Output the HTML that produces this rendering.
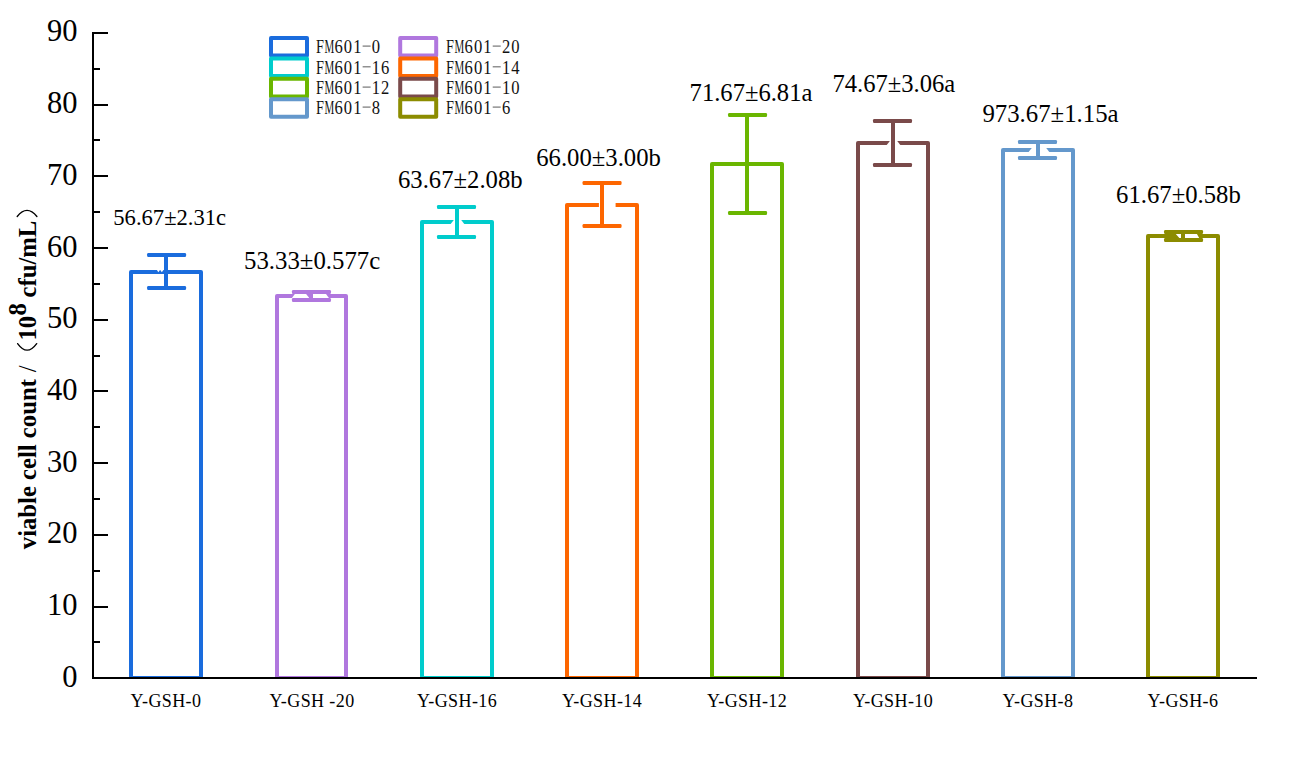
<!DOCTYPE html>
<html><head><meta charset="utf-8"><title>Viable cell count</title>
<style>html,body{margin:0;padding:0;background:#fff;}body{width:1314px;height:760px;overflow:hidden;font-family:"Liberation Serif",serif;}svg{display:block;}</style>
</head><body>
<svg width="1314" height="760" viewBox="0 0 1314 760">
<rect width="1314" height="760" fill="#fff"/>
<clipPath id="cp"><rect x="0" y="0" width="1314" height="677"/></clipPath>
<g fill="none" stroke-width="4" stroke-linejoin="round" clip-path="url(#cp)">
<rect x="131" y="272.00" width="70" height="406.00" stroke="#1A6CDD"/>
<rect x="277" y="296.00" width="69" height="382.00" stroke="#B077DE"/>
<rect x="422" y="222.00" width="70" height="456.00" stroke="#00CCCC"/>
<rect x="567" y="205.00" width="70" height="473.00" stroke="#FD6600"/>
<rect x="712" y="164.00" width="70" height="514.00" stroke="#6AB600"/>
<rect x="858" y="143.00" width="70" height="535.00" stroke="#7A4A4A"/>
<rect x="1003" y="150.00" width="70" height="528.00" stroke="#6498CC"/>
<rect x="1148" y="236.00" width="70" height="442.00" stroke="#8C8C00"/>
</g>
<g fill="#fff">
<polygon points="156.8,269.8 160.1,269.8 158.4,272.3"/>
<polygon points="160.1,269.8 163.6,269.8 161.8,272.3"/>
<polygon points="295.05,293.8 305.9,293.8 309.3,298 291.9,298"/>
<polygon points="312.8,293.8 325.8,293.8 328.95,298 312.8,298"/>
<polygon points="454,219.7 455.2,219.7 455.2,224.1 450.7,224.1"/>
<polygon points="458.9,219.7 461,219.7 464.3,224.1 458.9,224.1"/>
<polygon points="598.9,203 600.3,203 600.3,207.2 598.9,207.2"/>
<polygon points="603.8,203 615.6,203 615.6,207.2 603.8,207.2"/>
<polygon points="890.1,140.8 891.2,140.8 891.2,145.1 886.7,145.1"/>
<polygon points="894.9,140.8 897,140.8 900.3,145.1 894.9,145.1"/>
<polygon points="1032,147.8 1036.2,147.8 1036.2,152.1 1028.6,152.1"/>
<polygon points="1039.8,147.8 1046,147.8 1049.3,152.1 1039.8,152.1"/>
<polygon points="1175.8,234 1181.1,234 1181.1,238 1179.3,238"/>
<polygon points="1184.8,234 1196.9,234 1199.2,238 1184.8,238"/>
</g>
<g>
<rect x="147.10" y="253" width="39" height="4" rx="1.3" fill="#1A6CDD"/>
<rect x="147.10" y="286" width="39" height="4" rx="1.3" fill="#1A6CDD"/>
<rect x="164" y="255" width="4" height="33" fill="#1A6CDD"/>
<rect x="291.95" y="290" width="39" height="4" rx="1.3" fill="#B077DE"/>
<rect x="291.95" y="298" width="39" height="4" rx="1.3" fill="#B077DE"/>
<rect x="309" y="292" width="4" height="8" fill="#B077DE"/>
<rect x="437.00" y="205" width="39" height="4" rx="1.3" fill="#00CCCC"/>
<rect x="437.00" y="235" width="39" height="4" rx="1.3" fill="#00CCCC"/>
<rect x="455" y="207" width="4" height="30" fill="#00CCCC"/>
<rect x="582.55" y="181" width="39" height="4" rx="1.3" fill="#FD6600"/>
<rect x="582.55" y="224" width="39" height="4" rx="1.3" fill="#FD6600"/>
<rect x="600" y="183" width="4" height="43" fill="#FD6600"/>
<rect x="728.05" y="113" width="39" height="4" rx="1.3" fill="#6AB600"/>
<rect x="728.05" y="211" width="39" height="4" rx="1.3" fill="#6AB600"/>
<rect x="745" y="115" width="4" height="98" fill="#6AB600"/>
<rect x="873.00" y="119" width="39" height="4" rx="1.3" fill="#7A4A4A"/>
<rect x="873.00" y="163" width="39" height="4" rx="1.3" fill="#7A4A4A"/>
<rect x="891" y="121" width="4" height="44" fill="#7A4A4A"/>
<rect x="1018.00" y="140" width="39" height="4" rx="1.3" fill="#6498CC"/>
<rect x="1018.00" y="156" width="39" height="4" rx="1.3" fill="#6498CC"/>
<rect x="1036" y="142" width="4" height="16" fill="#6498CC"/>
<rect x="1164.05" y="230" width="39" height="4" rx="1.3" fill="#8C8C00"/>
<rect x="1164.05" y="238" width="39" height="4" rx="1.3" fill="#8C8C00"/>
<rect x="1181" y="232" width="4" height="8" fill="#8C8C00"/>
</g>
<g fill="#000">
<rect x="92" y="32" width="2" height="647"/>
<rect x="92" y="677" width="1165" height="2"/>
<rect x="94" y="32" width="14" height="2"/>
<rect x="94" y="68" width="6" height="2"/>
<rect x="94" y="104" width="14" height="2"/>
<rect x="94" y="139" width="6" height="2"/>
<rect x="94" y="175" width="14" height="2"/>
<rect x="94" y="211" width="6" height="2"/>
<rect x="94" y="247" width="14" height="2"/>
<rect x="94" y="283" width="6" height="2"/>
<rect x="94" y="319" width="14" height="2"/>
<rect x="94" y="355" width="6" height="2"/>
<rect x="94" y="390" width="14" height="2"/>
<rect x="94" y="426" width="6" height="2"/>
<rect x="94" y="462" width="14" height="2"/>
<rect x="94" y="498" width="6" height="2"/>
<rect x="94" y="534" width="14" height="2"/>
<rect x="94" y="570" width="6" height="2"/>
<rect x="94" y="606" width="14" height="2"/>
<rect x="94" y="641" width="6" height="2"/>
</g>
<g font-family="Liberation Serif, serif" font-size="30.5" text-anchor="end" fill="#000">
<text x="77.6" y="40.65">90</text>
<text x="77.6" y="112.65">80</text>
<text x="77.6" y="184.85">70</text>
<text x="77.6" y="256.7">60</text>
<text x="77.6" y="327.9">50</text>
<text x="77.6" y="399.7">40</text>
<text x="77.6" y="471.7">30</text>
<text x="77.6" y="543.3">20</text>
<text x="77.6" y="614.8">10</text>
<text x="77.6" y="686.65">0</text>
</g>
<g font-family="Liberation Serif, serif" font-size="18" text-anchor="middle" fill="#000" letter-spacing="0.4">
<text x="166" y="707" xml:space="preserve">Y-GSH-0</text>
<text x="312" y="707" xml:space="preserve">Y-GSH -20</text>
<text x="457" y="707" xml:space="preserve">Y-GSH-16</text>
<text x="602" y="707" xml:space="preserve">Y-GSH-14</text>
<text x="747" y="707" xml:space="preserve">Y-GSH-12</text>
<text x="893" y="707" xml:space="preserve">Y-GSH-10</text>
<text x="1038" y="707" xml:space="preserve">Y-GSH-8</text>
<text x="1183" y="707" xml:space="preserve">Y-GSH-6</text>
</g>
<g font-family="Liberation Serif, serif" fill="#000">
<text x="113.3" y="225.0" font-size="22.6">56.67±2.31c</text>
<text x="244.0" y="269.0" font-size="24.8">53.33±0.577c</text>
<text x="398.0" y="187.5" font-size="24.7">63.67±2.08b</text>
<text x="536.2" y="165.5" font-size="24.7">66.00±3.00b</text>
<text x="689.6" y="100.7" font-size="24.6">71.67±6.81a</text>
<text x="832.4" y="91.6" font-size="24.6">74.67±3.06a</text>
<text x="982.4" y="121.8" font-size="24.8">973.67±1.15a</text>
<text x="1116.1" y="203.4" font-size="24.7">61.67±0.58b</text>
</g>
<g fill="#fff" stroke-width="4" stroke-linejoin="round">
<rect x="271" y="38.00" width="36" height="17.6" stroke="#1A6CDD"/>
<rect x="271" y="58.40" width="36" height="17.6" stroke="#00CCCC"/>
<rect x="271" y="78.80" width="36" height="17.6" stroke="#6AB600"/>
<rect x="271" y="99.20" width="36" height="17.6" stroke="#6498CC"/>
<rect x="400.2" y="38.00" width="36" height="17.6" stroke="#B077DE"/>
<rect x="400.2" y="58.40" width="36" height="17.6" stroke="#FD6600"/>
<rect x="400.2" y="78.80" width="36" height="17.6" stroke="#7A4A4A"/>
<rect x="400.2" y="99.20" width="36" height="17.6" stroke="#8C8C00"/>
</g>
<g font-family="Liberation Serif, serif" font-size="19.3" text-anchor="middle" fill="#111">
<text transform="translate(319.97 52.9) scale(0.74 1)">F</text>
<text transform="translate(329.30 52.9) scale(0.57 1)">M</text>
<text transform="translate(338.62 52.9) scale(0.86 1)">6</text>
<text transform="translate(347.96 52.9) scale(0.86 1)">0</text>
<text transform="translate(357.29 52.9) scale(0.86 1)">1</text>
<rect x="362.62" y="45.50" width="8" height="1.2" fill="#777"/>
<text transform="translate(375.94 52.9) scale(0.86 1)">0</text>
<text transform="translate(319.97 73.6) scale(0.74 1)">F</text>
<text transform="translate(329.30 73.6) scale(0.57 1)">M</text>
<text transform="translate(338.62 73.6) scale(0.86 1)">6</text>
<text transform="translate(347.96 73.6) scale(0.86 1)">0</text>
<text transform="translate(357.29 73.6) scale(0.86 1)">1</text>
<rect x="362.62" y="66.20" width="8" height="1.2" fill="#777"/>
<text transform="translate(375.94 73.6) scale(0.86 1)">1</text>
<text transform="translate(385.27 73.6) scale(0.86 1)">6</text>
<text transform="translate(319.97 93.9) scale(0.74 1)">F</text>
<text transform="translate(329.30 93.9) scale(0.57 1)">M</text>
<text transform="translate(338.62 93.9) scale(0.86 1)">6</text>
<text transform="translate(347.96 93.9) scale(0.86 1)">0</text>
<text transform="translate(357.29 93.9) scale(0.86 1)">1</text>
<rect x="362.62" y="86.50" width="8" height="1.2" fill="#777"/>
<text transform="translate(375.94 93.9) scale(0.86 1)">1</text>
<text transform="translate(385.27 93.9) scale(0.86 1)">2</text>
<text transform="translate(319.97 113.9) scale(0.74 1)">F</text>
<text transform="translate(329.30 113.9) scale(0.57 1)">M</text>
<text transform="translate(338.62 113.9) scale(0.86 1)">6</text>
<text transform="translate(347.96 113.9) scale(0.86 1)">0</text>
<text transform="translate(357.29 113.9) scale(0.86 1)">1</text>
<rect x="362.62" y="106.50" width="8" height="1.2" fill="#777"/>
<text transform="translate(375.94 113.9) scale(0.86 1)">8</text>
<text transform="translate(450.06 52.9) scale(0.74 1)">F</text>
<text transform="translate(459.39 52.9) scale(0.57 1)">M</text>
<text transform="translate(468.72 52.9) scale(0.86 1)">6</text>
<text transform="translate(478.05 52.9) scale(0.86 1)">0</text>
<text transform="translate(487.38 52.9) scale(0.86 1)">1</text>
<rect x="492.71" y="45.50" width="8" height="1.2" fill="#777"/>
<text transform="translate(506.04 52.9) scale(0.86 1)">2</text>
<text transform="translate(515.38 52.9) scale(0.86 1)">0</text>
<text transform="translate(450.06 73.6) scale(0.74 1)">F</text>
<text transform="translate(459.39 73.6) scale(0.57 1)">M</text>
<text transform="translate(468.72 73.6) scale(0.86 1)">6</text>
<text transform="translate(478.05 73.6) scale(0.86 1)">0</text>
<text transform="translate(487.38 73.6) scale(0.86 1)">1</text>
<rect x="492.71" y="66.20" width="8" height="1.2" fill="#777"/>
<text transform="translate(506.04 73.6) scale(0.86 1)">1</text>
<text transform="translate(515.38 73.6) scale(0.86 1)">4</text>
<text transform="translate(450.06 93.9) scale(0.74 1)">F</text>
<text transform="translate(459.39 93.9) scale(0.57 1)">M</text>
<text transform="translate(468.72 93.9) scale(0.86 1)">6</text>
<text transform="translate(478.05 93.9) scale(0.86 1)">0</text>
<text transform="translate(487.38 93.9) scale(0.86 1)">1</text>
<rect x="492.71" y="86.50" width="8" height="1.2" fill="#777"/>
<text transform="translate(506.04 93.9) scale(0.86 1)">1</text>
<text transform="translate(515.38 93.9) scale(0.86 1)">0</text>
<text transform="translate(450.06 113.9) scale(0.74 1)">F</text>
<text transform="translate(459.39 113.9) scale(0.57 1)">M</text>
<text transform="translate(468.72 113.9) scale(0.86 1)">6</text>
<text transform="translate(478.05 113.9) scale(0.86 1)">0</text>
<text transform="translate(487.38 113.9) scale(0.86 1)">1</text>
<rect x="492.71" y="106.50" width="8" height="1.2" fill="#777"/>
<text transform="translate(506.04 113.9) scale(0.86 1)">6</text>
</g>
<g font-family="Liberation Serif, serif" font-size="24.7" font-weight="bold" fill="#000">
<text transform="translate(36.3 549.2) rotate(-90)">viable cell count</text>
<text transform="translate(36.3 372.3) rotate(-90)" font-weight="normal">/</text>
<text transform="translate(36.3 340.6) rotate(-90)">10</text>
<text transform="translate(25.999999999999996 315.4) rotate(-90)">8</text>
<text transform="translate(36.3 297.5) rotate(-90)">cfu/mL</text>
</g>
<g fill="none" stroke="#000" stroke-width="1.35" stroke-linecap="round">
<path d="M17.6 343.6 Q27.1 356.7 36.7 343.6"/>
<path d="M17.2 216.5 Q27 204.3 36.9 216.5"/>
</g>
</svg>
</body></html>
